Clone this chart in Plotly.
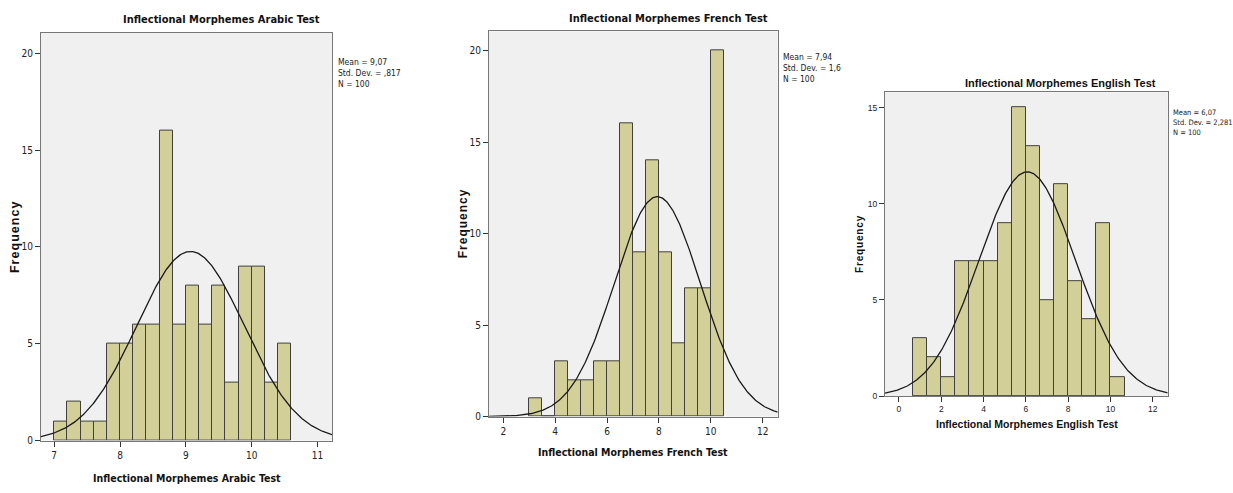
import numpy as np
import plotly.graph_objects as go

# ---------------- data ----------------
arabic_counts = [1, 2, 1, 1, 5, 5, 6, 6, 16, 6, 8, 6, 8, 3, 9, 9, 3, 5]
arabic_bin_start = 7.0
arabic_bin_width = 0.2

french_counts = [1, 0, 3, 2, 2, 3, 3, 16, 9, 14, 9, 4, 7, 7, 20]
french_bin_start = 3.0
french_bin_width = 0.5

english_counts = [3, 2, 1, 7, 7, 7, 9, 15, 13, 5, 11, 6, 4, 9, 1]
english_bin_start = 2 / 3
english_bin_width = 2 / 3

means = [9.07, 7.94, 6.07]
std_devs = [0.817, 1.6, 2.281]
curve_sds = [0.817, 1.66, 2.281]   # spread of drawn normal curves
n_values = [100, 100, 100]
stats_labels = [
    "Mean = 9,07<br>Std. Dev. = ,817<br>N = 100",
    "Mean = 7,94<br>Std. Dev. = 1,6<br>N = 100",
    "Mean = 6,07<br>Std. Dev. = 2,281<br>N = 100",
]
titles = [
    "Inflectional Morphemes Arabic Test",
    "Inflectional Morphemes French Test",
    "Inflectional Morphemes English Test",
]
x_ticks = [[7, 8, 9, 10, 11], [2, 4, 6, 8, 10, 12], [0, 2, 4, 6, 8, 10, 12]]
y_ticks = [[0, 5, 10, 15, 20], [0, 5, 10, 15, 20], [0, 5, 10, 15]]
x_ranges = [[6.8, 11.22], [1.45, 12.58], [-0.66, 12.71]]
y_ranges = [[0, 21.07], [0, 21.05], [0, 15.8]]

# ---------------- layout geometry (pixels) ----------------
W, H = 1233, 493
plot_px = [  # left, right, top, bottom
    (41, 332, 33, 446),
    (489, 777.7, 31.7, 421.7),
    (885, 1167.7, 93.3, 401),
]
title_pos = [(221, 20), (668, 19), (1060, 84)]
xtitle_pos = [(187, 484), (633, 458), (1027, 429)]
ytitle_pos = [(15, 240), (463, 227), (860, 247)]
stats_pos = [(336, 56), (781, 51), (1171, 107)]

NARROW = "DejaVu Sans Condensed, Liberation Sans Narrow, Arial Narrow, Liberation Sans, Arial"
ARIAL = "Liberation Sans, Arial"
title_fonts = [(NARROW, 11), (NARROW, 11), (ARIAL, 11)]
xtitle_fonts = [(NARROW, 10.5), (NARROW, 10.5), (ARIAL, 10.5)]
ytitle_sizes = [12.5, 12, 10]
tick_fonts = [(NARROW, 10), (NARROW, 10), (ARIAL, 8.5)]
stats_fonts = [(NARROW, 8.5), (NARROW, 8.5), (NARROW, 7.5)]

BAR_FILL = "#D3CF98"
BAR_LINE = "#404040"
PLOT_BG = "#F0F0F0"

def px_x(p):
    return p / W

def px_y(p):
    return 1 - p / H

fig = go.Figure()
all_counts = [arabic_counts, french_counts, english_counts]
starts = [arabic_bin_start, french_bin_start, english_bin_start]
widths = [arabic_bin_width, french_bin_width, english_bin_width]

annotations = []
for i in range(3):
    ax = "" if i == 0 else str(i + 1)
    counts = np.array(all_counts[i])
    bw = widths[i]
    centers = starts[i] + bw * (np.arange(len(counts)) + 0.5)
    fig.add_trace(go.Bar(
        x=centers, y=counts, width=bw,
        marker=dict(color=BAR_FILL, line=dict(color=BAR_LINE, width=1)),
        xaxis="x" + ax, yaxis="y" + ax, showlegend=False, hoverinfo="x+y",
    ))
    xs = np.linspace(x_ranges[i][0], x_ranges[i][1], 300)
    sd = curve_sds[i]
    ys = n_values[i] * bw * np.exp(-0.5 * ((xs - means[i]) / sd) ** 2) / (sd * np.sqrt(2 * np.pi))
    fig.add_trace(go.Scatter(
        x=xs, y=ys, mode="lines", line=dict(color="#1a1a1a", width=1.3),
        xaxis="x" + ax, yaxis="y" + ax, showlegend=False, hoverinfo="skip",
    ))

    l, r, t, b = plot_px[i]
    fig.layout["xaxis" + ax] = dict(
        domain=[px_x(l), px_x(r)], range=x_ranges[i], anchor="y" + ax,
        tickvals=x_ticks[i], ticks="outside", ticklen=5, tickcolor="#333",
        showgrid=False, zeroline=False, showline=True, linecolor="#777",
        linewidth=1.2, mirror=True,
        tickfont=dict(family=tick_fonts[i][0], size=tick_fonts[i][1], color="#222"),
    )
    fig.layout["yaxis" + ax] = dict(
        domain=[px_y(b), px_y(t)], range=y_ranges[i], anchor="x" + ax,
        tickvals=y_ticks[i], ticks="outside", ticklen=5, tickcolor="#333",
        showgrid=False, zeroline=False, showline=True, linecolor="#777",
        linewidth=1.2, mirror=True,
        tickfont=dict(family=tick_fonts[i][0], size=tick_fonts[i][1], color="#222"),
    )
    fig.add_shape(type="rect", xref="x" + ax + " domain", yref="y" + ax + " domain",
                  x0=0, x1=1, y0=0, y1=1, fillcolor=PLOT_BG, line=dict(width=0),
                  layer="below")

    tx, ty = title_pos[i]
    annotations.append(dict(text="<b>" + titles[i] + "</b>", x=px_x(tx), y=px_y(ty),
                            xref="paper", yref="paper", showarrow=False,
                            xanchor="center", yanchor="middle",
                            font=dict(family=title_fonts[i][0], size=title_fonts[i][1], color="#111")))
    tx, ty = xtitle_pos[i]
    annotations.append(dict(text="<b>" + titles[i] + "</b>", x=px_x(tx), y=px_y(ty),
                            xref="paper", yref="paper", showarrow=False,
                            xanchor="center", yanchor="middle",
                            font=dict(family=xtitle_fonts[i][0], size=xtitle_fonts[i][1], color="#111")))
    tx, ty = ytitle_pos[i]
    annotations.append(dict(text="<b>F r e q u e n c y</b>".replace(" ", "\u200a"),
                            x=px_x(tx), y=px_y(ty),
                            xref="paper", yref="paper", showarrow=False, textangle=-90,
                            xanchor="center", yanchor="middle",
                            font=dict(family=ARIAL, size=ytitle_sizes[i], color="#111")))
    tx, ty = stats_pos[i]
    annotations.append(dict(text=stats_labels[i], x=px_x(tx), y=px_y(ty),
                            xref="paper", yref="paper", showarrow=False, align="left",
                            xanchor="left", yanchor="top",
                            font=dict(family=stats_fonts[i][0], size=stats_fonts[i][1], color="#222")))

fig.update_layout(
    width=W, height=H, margin=dict(l=0, r=0, t=0, b=0),
    paper_bgcolor="white", plot_bgcolor="rgba(0,0,0,0)",
    annotations=annotations, bargap=0, showlegend=False,
)
fig.write_html("out.html", config={"displayModeBar": False},
               post_script="document.body.style.margin='0px';")
